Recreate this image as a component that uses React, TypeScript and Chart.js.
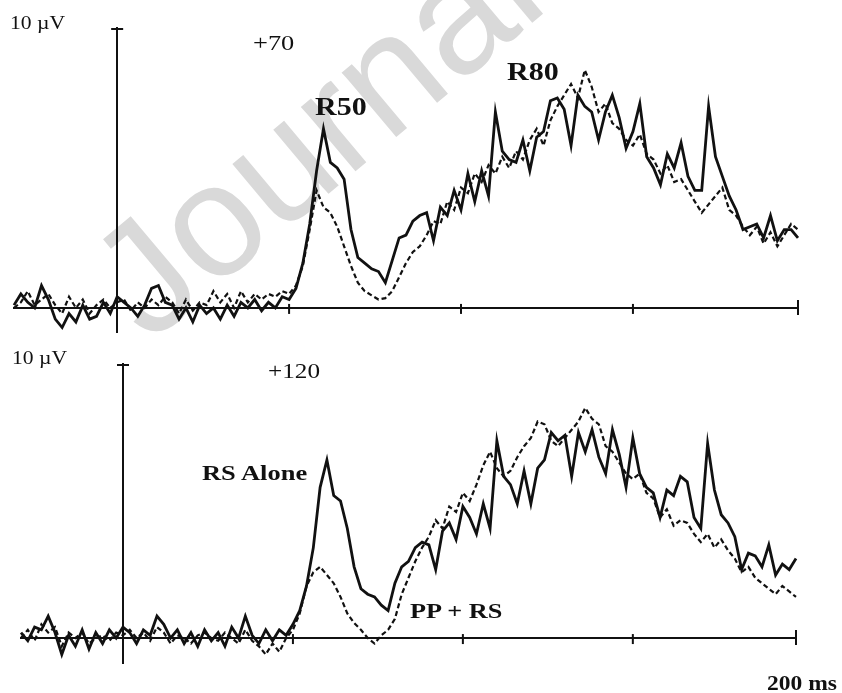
import { useEffect, useRef } from 'react';
import { Chart, registerables } from 'chart.js';

Chart.register(...registerables);

// time axis (ms after stimulus), sampled every 2 ms
const TIME_MS = [
  -30, -28, -26, -24, -22, -20, -18, -16, -14, -12,
  -10, -8, -6, -4, -2, 0, 2, 4, 6, 8,
  10, 12, 14, 16, 18, 20, 22, 24, 26, 28,
  30, 32, 34, 36, 38, 40, 42, 44, 46, 48,
  50, 52, 54, 56, 58, 60, 62, 64, 66, 68,
  70, 72, 74, 76, 78, 80, 82, 84, 86, 88,
  90, 92, 94, 96, 98, 100, 102, 104, 106, 108,
  110, 112, 114, 116, 118, 120, 122, 124, 126, 128,
  130, 132, 134, 136, 138, 140, 142, 144, 146, 148,
  150, 152, 154, 156, 158, 160, 162, 164, 166, 168,
  170, 172, 174, 176, 178, 180, 182, 184, 186, 188,
  190, 192, 194, 196, 198,
];

const X_MIN_MS = -30;
const X_MAX_MS = 198;
const X_TICKS_MS = [0, 50, 100, 150, 198];
const Y_MAX_UV = 10;

// Panel "+70" : RS alone (solid) and PP + RS (dashed), µV
const TOP_RS_ALONE = [
  0.1, 0.5, 0.2, 0.0, 0.8, 0.3, -0.4, -0.7, -0.2, -0.5,
  0.1, -0.4, -0.3, 0.2, -0.2, 0.4, 0.2, 0.0, -0.3, 0.1,
  0.7, 0.8, 0.2, 0.1, -0.4, 0.0, -0.5, 0.1, -0.2, 0.0,
  -0.4, 0.1, -0.3, 0.2, 0.0, 0.3, -0.1, 0.2, 0.0, 0.4,
  0.3, 0.7, 1.6, 3.0, 4.9, 6.4, 5.2, 5.0, 4.6, 2.8,
  1.8, 1.6, 1.4, 1.3, 0.9, 1.7, 2.5, 2.6, 3.1, 3.3,
  3.4, 2.4, 3.6, 3.3, 4.2, 3.5, 4.8, 3.8, 4.9, 4.0,
  7.0, 5.6, 5.3, 5.2, 6.0, 4.9, 6.1, 6.3, 7.4, 7.5,
  7.1, 5.8, 7.6, 7.2, 7.0, 6.0, 7.0, 7.6, 6.8, 5.7,
  6.3, 7.3, 5.4, 5.0, 4.4, 5.5, 5.0, 5.9, 4.7, 4.2,
  4.2, 7.2, 5.4, 4.7, 4.0, 3.5, 2.8, 2.9, 3.0, 2.5,
  3.3, 2.4, 2.8, 2.8, 2.5,
];
const TOP_PP_RS = [
  0.0, 0.2, 0.6, 0.1, 0.3, 0.5, 0.1, -0.2, 0.4, 0.0,
  0.3, -0.2, 0.1, 0.3, 0.0, 0.2, 0.3, -0.1, 0.2, 0.0,
  0.3, 0.1, 0.4, 0.2, -0.2, 0.3, -0.1, 0.2, 0.1, 0.6,
  0.2, 0.5, 0.0, 0.6, 0.2, 0.5, 0.3, 0.5, 0.4, 0.6,
  0.5, 0.8, 1.5, 2.8, 4.2, 3.6, 3.4, 2.9, 2.2, 1.5,
  0.9, 0.6, 0.45, 0.3, 0.35, 0.6, 1.1, 1.6, 2.0, 2.2,
  2.6, 3.1, 3.0, 3.8, 3.5, 4.3, 4.1, 4.8, 4.5, 5.1,
  4.8, 5.4, 5.0, 5.6, 5.3, 6.0, 6.4, 5.8, 6.7, 7.2,
  7.6, 8.0, 7.5, 8.5, 7.9, 7.0, 7.3, 6.6, 6.4, 6.0,
  5.8, 6.2, 5.5, 5.3, 4.8, 5.1, 4.5, 4.6, 4.2, 3.8,
  3.4, 3.7, 4.0, 4.3, 3.5, 3.3, 2.9, 2.6, 2.9, 2.3,
  2.7, 2.2, 2.6, 3.0, 2.8,
];

// Panel "+120"
const BOTTOM_RS_ALONE = [
  0.2, -0.1, 0.4, 0.3, 0.8, 0.2, -0.6, 0.1, -0.3, 0.3,
  -0.4, 0.2, -0.2, 0.3, 0.0, 0.4, 0.2, -0.2, 0.3, 0.1,
  0.8, 0.5, 0.0, 0.3, -0.2, 0.2, -0.3, 0.3, -0.1, 0.2,
  -0.3, 0.4, 0.0, 0.8, 0.1, -0.2, 0.3, -0.1, 0.3, 0.1,
  0.5, 1.0, 1.9, 3.3, 5.5, 6.5, 5.2, 5.0, 4.0, 2.6,
  1.8, 1.6, 1.5, 1.2, 1.0, 2.0, 2.6, 2.8, 3.3, 3.5,
  3.4, 2.5, 3.9, 4.2, 3.6, 4.8, 4.4, 3.8, 4.9, 4.0,
  7.2, 5.9, 5.6, 4.9, 6.1, 4.9, 6.2, 6.5, 7.5, 7.2,
  7.4, 5.9, 7.5, 6.8, 7.6, 6.6, 6.0, 7.6, 6.7, 5.5,
  7.3, 6.0, 5.5, 5.3, 4.4, 5.4, 5.2, 5.9, 5.7, 4.4,
  4.0, 7.1, 5.4, 4.5, 4.2, 3.7, 2.5, 3.1, 3.0, 2.6,
  3.4, 2.3, 2.7, 2.5, 2.9,
];
const BOTTOM_PP_RS = [
  0.0, 0.3, -0.1, 0.5, 0.2, 0.4, -0.3, 0.2, 0.0, 0.2,
  -0.2, 0.0, 0.1, -0.1, 0.2, 0.1, 0.3, 0.0, 0.2, -0.1,
  0.4, 0.2, -0.2, 0.1, 0.0, -0.2, 0.1, 0.2, 0.0, -0.1,
  0.2, 0.0, -0.2, 0.3, -0.1, -0.3, -0.6, -0.2, -0.5, 0.0,
  0.3, 0.9, 1.9, 2.4, 2.6, 2.3, 2.0, 1.5, 0.9, 0.55,
  0.3, 0.0, -0.2, 0.1, 0.3, 0.7, 1.6, 2.2, 2.8, 3.3,
  3.7, 4.3, 4.0, 4.8, 4.6, 5.3, 5.0, 5.6, 6.3, 6.8,
  6.2, 5.9, 6.1, 6.6, 7.0, 7.3, 7.9, 7.8, 7.2, 7.0,
  7.3, 7.6, 7.9, 8.4, 8.0, 7.8, 7.0, 6.8, 6.4, 6.0,
  5.8, 6.0, 5.3, 5.1, 4.4, 4.7, 4.1, 4.3, 4.2, 3.8,
  3.5, 3.8, 3.3, 3.6, 3.2, 2.9, 2.4, 2.6, 2.2, 2.0,
  1.8, 1.6, 1.9, 1.7, 1.5,
];

const INK = '#111';
const SERIF = "'Liberation Serif', 'Times New Roman', serif";

const axisMarks = {
  id: 'axisMarks',
  afterDraw(chart: any, _args: any, opts: any) {
    const { ctx, scales } = chart;
    const x = scales.x;
    const y = scales.y;
    const y0 = y.getPixelForValue(0);
    ctx.save();
    ctx.strokeStyle = INK;
    ctx.lineWidth = 2;
    const ticks: number[] = opts.ticks || [];
    ticks.forEach((t, i) => {
      if (t === 0) return;
      const px = x.getPixelForValue(t);
      const last = i === ticks.length - 1;
      ctx.beginPath();
      ctx.moveTo(px, y0 - (last ? 8 : 4));
      ctx.lineTo(px, y0 + (last ? 7 : 6));
      ctx.stroke();
    });
    const x0 = x.getPixelForValue(0);
    const yt = y.getPixelForValue(y.max) + 1;
    ctx.beginPath();
    ctx.moveTo(x0 - 6, yt);
    ctx.lineTo(x0 + 6, yt);
    ctx.stroke();
    ctx.restore();
  },
};

function makeConfig(solid: number[], dashed: number[], padding: any, yMin: number): any {
  return {
    type: 'line',
    data: {
      datasets: [
        {
          label: 'PP + RS',
          data: TIME_MS.map((t, i) => ({ x: t, y: dashed[i] })),
          borderColor: INK,
          borderWidth: 2.2,
          borderDash: [5, 3],
          pointRadius: 0,
          tension: 0,
          clip: false,
        },
        {
          label: 'RS Alone',
          data: TIME_MS.map((t, i) => ({ x: t, y: solid[i] })),
          borderColor: INK,
          borderWidth: 2.8,
          pointRadius: 0,
          tension: 0,
          clip: false,
        },
      ],
    },
    options: {
      animation: false,
      responsive: false,
      maintainAspectRatio: false,
      layout: { padding },
      plugins: {
        legend: { display: false },
        tooltip: { enabled: false },
        axisMarks: { ticks: X_TICKS_MS },
      },
      scales: {
        x: {
          type: 'linear',
          min: X_MIN_MS,
          max: X_MAX_MS,
          position: { y: 0 },
          grid: { display: false, drawTicks: false },
          ticks: { display: false },
          border: { display: true, color: INK, width: 2 },
        },
        y: {
          type: 'linear',
          min: yMin,
          max: Y_MAX_UV,
          position: { x: 0 },
          grid: { display: false, drawTicks: false },
          ticks: { display: false },
          border: { display: true, color: INK, width: 2 },
        },
      },
    },
    plugins: [axisMarks],
  };
}

function Label(props: { text: string; left: number; top: number; size: number; bold?: boolean; sx?: number }) {
  return (
    <div
      style={{
        position: 'absolute',
        left: props.left,
        top: props.top,
        fontFamily: SERIF,
        fontSize: props.size,
        fontWeight: props.bold ? 700 : 400,
        lineHeight: 1,
        whiteSpace: 'nowrap',
        color: INK,
        transform: `scaleX(${props.sx ?? 1.2})`,
        transformOrigin: '0 0',
      }}
    >
      {props.text}
    </div>
  );
}

export default function App() {
  const topRef = useRef<HTMLCanvasElement>(null);
  const botRef = useRef<HTMLCanvasElement>(null);

  useEffect(() => {
    const c1 = new Chart(
      topRef.current as HTMLCanvasElement,
      makeConfig(TOP_RS_ALONE, TOP_PP_RS, { left: 14, right: 44, top: 28, bottom: 8 }, -0.86)
    );
    const c2 = new Chart(
      botRef.current as HTMLCanvasElement,
      makeConfig(BOTTOM_RS_ALONE, BOTTOM_PP_RS, { left: 21, right: 46, top: 24, bottom: 30 }, -0.91)
    );
    return () => {
      c1.destroy();
      c2.destroy();
    };
  }, []);

  return (
    <div
      style={{
        position: 'fixed',
        left: 0,
        top: 0,
        width: 842,
        height: 693,
        background: '#fff',
        overflow: 'hidden',
      }}
    >
      <div
        style={{
          position: 'absolute',
          left: 150,
          top: 345 - 136,
          fontFamily: "'Liberation Sans', Arial, sans-serif",
          fontSize: 160,
          lineHeight: '160px',
          color: '#d9d9d9',
          whiteSpace: 'nowrap',
          transform: 'rotate(-40deg)',
          transformOrigin: '0px 136px',
        }}
      >
        Journal
      </div>
      <canvas ref={topRef} width={842} height={340} style={{ position: 'absolute', left: 0, top: 0 }} />
      <canvas ref={botRef} width={842} height={353} style={{ position: 'absolute', left: 0, top: 340 }} />
      <Label text="10 µV" left={10} top={14} size={18} />
      <Label text="+70" left={253} top={32} size={22} />
      <Label text="R50" left={315} top={94} size={25} bold />
      <Label text="R80" left={507} top={59} size={25} bold />
      <Label text="10 µV" left={12} top={349} size={18} />
      <Label text="+120" left={268} top={361} size={21} />
      <Label text="RS Alone" left={202} top={463} size={21} bold sx={1.26} />
      <Label text="PP + RS" left={410} top={601} size={21} bold sx={1.25} />
      <Label text="200 ms" left={767} top={672} size={22} bold sx={1.07} />
    </div>
  );
}
